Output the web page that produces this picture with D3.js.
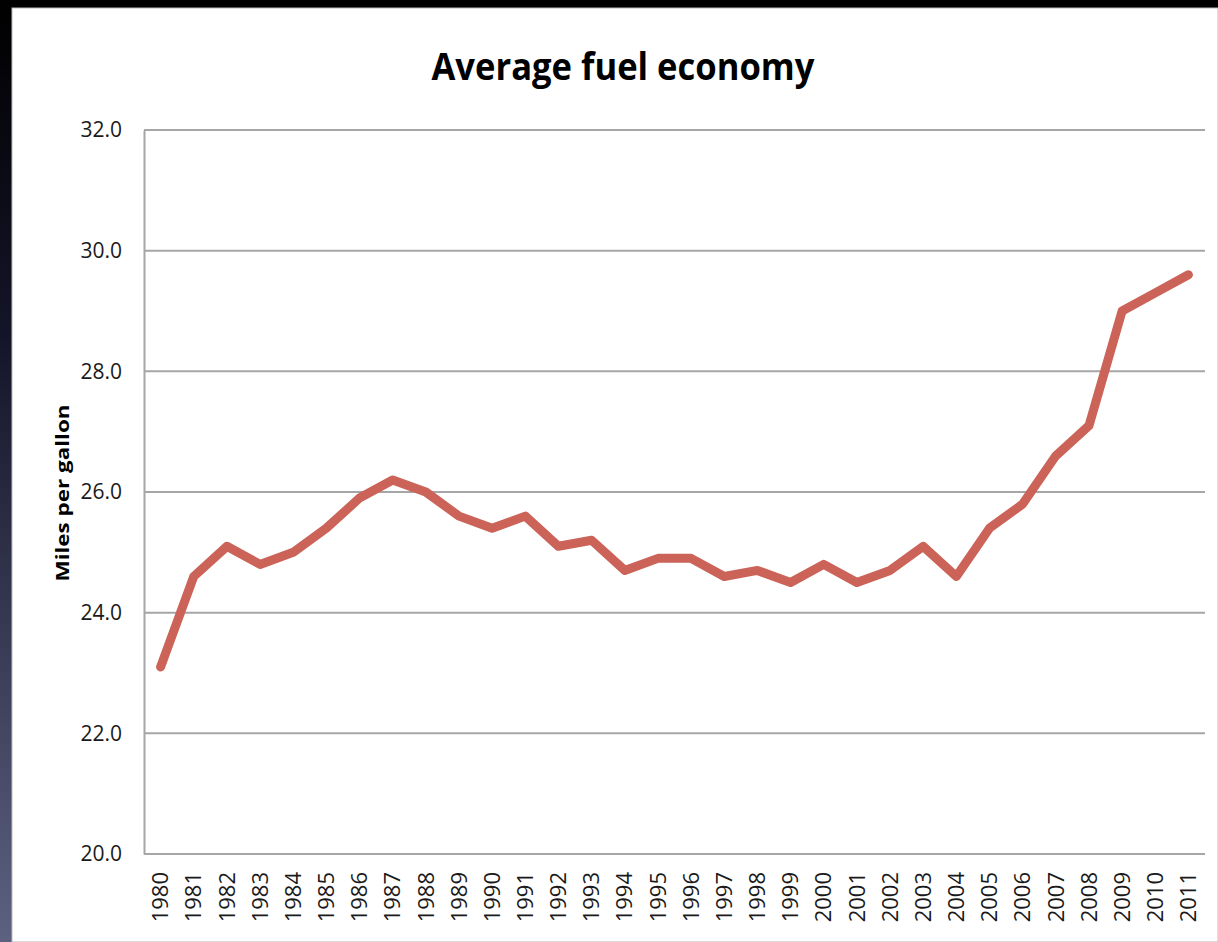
<!DOCTYPE html>
<html>
<head>
<meta charset="utf-8">
<script src="https://cdn.jsdelivr.net/npm/d3@7/dist/d3.min.js"></script>
<style>
  html, body { margin: 0; padding: 0; background: #000; }
  svg { display: block; }
</style>
</head>
<body>
<svg id="chart" width="1218" height="942"></svg>
<script>
let years = ['1980', '1981', '1982', '1983', '1984', '1985', '1986', '1987', '1988', '1989',
  '1990', '1991', '1992', '1993', '1994', '1995', '1996', '1997', '1998', '1999',
  '2000', '2001', '2002', '2003', '2004', '2005', '2006', '2007', '2008', '2009',
  '2010', '2011'];
let mpg = [23.1, 24.6, 25.1, 24.8, 25.0, 25.4, 25.9, 26.2, 26.0, 25.6,
  25.4, 25.6, 25.1, 25.2, 24.7, 24.9, 24.9, 24.6, 24.7, 24.5,
  24.8, 24.5, 24.7, 25.1, 24.6, 25.4, 25.8, 26.6, 27.1, 29.0,
  29.3, 29.6];
let yTicks = [20, 22, 24, 26, 28, 30, 32];

let svg = d3.select('#chart');

// slide frame: dark strip on the left, black strip on top
let defs = svg.append('defs');
let grad = defs.append('linearGradient')
  .attr('id', 'edge')
  .attr('x1', 0).attr('y1', 0).attr('x2', 0).attr('y2', 1);
grad.append('stop').attr('offset', '0%').attr('stop-color', '#000');
grad.append('stop').attr('offset', '35%').attr('stop-color', '#141428');
grad.append('stop').attr('offset', '100%').attr('stop-color', '#5c6180');

svg.append('rect').attr('width', 1218).attr('height', 942).attr('fill', '#000');
svg.append('rect').attr('x', 0).attr('y', 0).attr('width', 13).attr('height', 942)
  .attr('fill', 'url(#edge)');
svg.append('rect').attr('x', 12).attr('y', 8).attr('width', 1206).attr('height', 934)
  .attr('fill', '#fff').attr('stroke', '#bbb').attr('stroke-width', 1);

let plotLeft = 144, plotRight = 1205, plotTop = 130, plotBottom = 854;

let x = d3.scaleBand().domain(years).range([plotLeft, plotRight]);
let y = d3.scaleLinear().domain([20, 32]).range([plotBottom, plotTop]);

// gridlines
svg.append('g')
  .selectAll('line')
  .data(yTicks)
  .join('line')
  .attr('x1', plotLeft)
  .attr('x2', plotRight)
  .attr('y1', d => y(d))
  .attr('y2', d => y(d))
  .attr('stroke', '#a6a6a6')
  .attr('stroke-width', 2);

// y axis
let yAxis = svg.append('g')
  .attr('transform', 'translate(' + plotLeft + ',0)')
  .call(d3.axisLeft(y).tickValues(yTicks).tickFormat(d3.format('.1f')).tickSize(0).tickPadding(22));
yAxis.select('.domain').attr('stroke', '#a6a6a6').attr('stroke-width', 2);
yAxis.selectAll('text')
  .attr('font-family', 'Open Sans, sans-serif')
  .attr('font-size', 21)
  .attr('fill', '#1a1a1a');

// x axis
let xAxis = svg.append('g')
  .attr('transform', 'translate(0,' + plotBottom + ')')
  .call(d3.axisBottom(x).tickSize(0));
xAxis.select('.domain').remove();
xAxis.selectAll('text')
  .attr('font-family', 'Open Sans, sans-serif')
  .attr('font-size', 22)
  .attr('fill', '#1a1a1a')
  .attr('transform', 'rotate(-90)')
  .attr('text-anchor', 'end')
  .attr('x', -18)
  .attr('y', 0)
  .attr('dy', '0.35em');

// the line
let line = d3.line()
  .x((d, i) => x(years[i]) + x.bandwidth() / 2)
  .y(d => y(d));
svg.append('path')
  .datum(mpg)
  .attr('d', line)
  .attr('fill', 'none')
  .attr('stroke', '#cc6358')
  .attr('stroke-width', 9)
  .attr('stroke-linejoin', 'round')
  .attr('stroke-linecap', 'round');

// title
svg.append('text')
  .attr('x', 623)
  .attr('y', 80)
  .attr('text-anchor', 'middle')
  .attr('font-family', 'Liberation Sans Narrow, Open Sans, sans-serif')
  .attr('font-weight', 'bold')
  .attr('font-size', 38)
  .attr('textLength', 383)
  .attr('lengthAdjust', 'spacingAndGlyphs')
  .attr('fill', '#000')
  .text('Average fuel economy');

// y axis title
svg.append('text')
  .attr('transform', 'translate(69,493) rotate(-90)')
  .attr('text-anchor', 'middle')
  .attr('font-family', 'Open Sans, sans-serif')
  .attr('font-weight', 'bold')
  .attr('font-size', 17)
  .attr('textLength', 177)
  .attr('lengthAdjust', 'spacingAndGlyphs')
  .attr('fill', '#000')
  .text('Miles per gallon');
</script>
</body>
</html>
